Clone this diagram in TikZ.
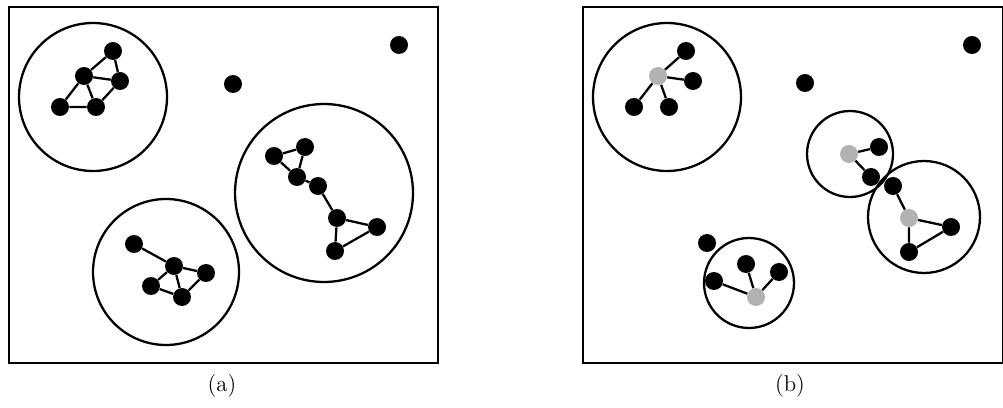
\documentclass[tikz,border=0pt]{standalone}
\usepackage{tikz}
\tikzset{
  vtx/.style={circle, fill=black, inner sep=0pt, minimum size=0.36cm},
  hub/.style={circle, fill=gray!60, inner sep=0pt, minimum size=0.36cm},
  link/.style={line width=1.3pt},
  ring/.style={line width=1.3pt},
  panel/.style={line width=0.7pt},
  tag/.style={font=\fontsize{13}{15}\selectfont}
}

\begin{document}
\begin{tikzpicture}[x=0.02cm, y=-0.02cm]
  \useasboundingbox (0,0) rectangle (1003,408);
  % panel (a)
  \draw[panel] (9,7) rectangle (438,363);
  \draw[ring] (93,97) circle (1.48cm);
  \draw[ring] (324,193) circle (1.78cm);
  \draw[ring] (166,272) circle (1.46cm);
  % cluster 1
  \node[vtx] (a1) at (113,51) {};
  \node[vtx] (a2) at (84,76) {};
  \node[vtx] (a3) at (120,81) {};
  \node[vtx] (a4) at (60,107) {};
  \node[vtx] (a5) at (96,107) {};
  \draw[link] (a1) -- (a2) (a1) -- (a3) (a2) -- (a3) (a2) -- (a4)
              (a2) -- (a5) (a4) -- (a5) (a5) -- (a3);
  % cluster 2
  \node[vtx] (b1) at (134,244) {};
  \node[vtx] (b2) at (174,266) {};
  \node[vtx] (b3) at (206,273) {};
  \node[vtx] (b4) at (151,286) {};
  \node[vtx] (b5) at (182,297) {};
  \draw[link] (b1) -- (b2) (b2) -- (b3) (b2) -- (b5) (b2) -- (b4)
              (b4) -- (b5) (b5) -- (b3);
  % cluster 3
  \node[vtx] (c1) at (274,156) {};
  \node[vtx] (c2) at (305,147) {};
  \node[vtx] (c3) at (297,177) {};
  \node[vtx] (c4) at (318,186) {};
  \node[vtx] (c5) at (337,218) {};
  \node[vtx] (c6) at (377,227) {};
  \node[vtx] (c7) at (335,251) {};
  \draw[link] (c1) -- (c2) (c1) -- (c3) (c2) -- (c3) (c3) -- (c4)
              (c4) -- (c5) (c5) -- (c6) (c5) -- (c7) (c6) -- (c7);
  % outliers
  \node[vtx] (o1) at (233,84) {};
  \node[vtx] (o2) at (399,45) {};
  \node[tag] (la) at (222,386) {(a)};

  % panel (b)
  \draw[panel] (583,7) rectangle (1003,363);
  \draw[ring] (667,97) circle (1.48cm);
  \draw[ring] (850,154) circle (0.86cm);
  \draw[ring] (924,217) circle (1.12cm);
  \draw[ring] (749,283) circle (0.90cm);
  % star 1
  \node[hub] (h1) at (658,76) {};
  \node[vtx] (d1) at (686,51) {};
  \node[vtx] (d2) at (693,81) {};
  \node[vtx] (d3) at (634,107) {};
  \node[vtx] (d4) at (669,107) {};
  \draw[link] (h1) -- (d1) (h1) -- (d2) (h1) -- (d3) (h1) -- (d4);
  % star 2
  \node[hub] (h2) at (849,154) {};
  \node[vtx] (e1) at (879,147) {};
  \node[vtx] (e2) at (871,177) {};
  \draw[link] (h2) -- (e1) (h2) -- (e2);
  % star 3
  \node[hub] (h3) at (909,218) {};
  \node[vtx] (f1) at (893,186) {};
  \node[vtx] (f2) at (951,227) {};
  \node[vtx] (f3) at (909,252) {};
  \draw[link] (h3) -- (f1) (h3) -- (f2) (h3) -- (f3) (f2) -- (f3);
  % star 4
  \node[hub] (h4) at (756,297) {};
  \node[vtx] (g1) at (714,281) {};
  \node[vtx] (g2) at (746,264) {};
  \node[vtx] (g3) at (779,272) {};
  \draw[link] (h4) -- (g1) (h4) -- (g2) (h4) -- (g3);
  % outliers
  \node[vtx] (p1) at (805,83) {};
  \node[vtx] (p2) at (972,45) {};
  \node[vtx] (p3) at (707,243) {};
  \node[tag] (lb) at (790,386) {(b)};
\end{tikzpicture}
\end{document}
